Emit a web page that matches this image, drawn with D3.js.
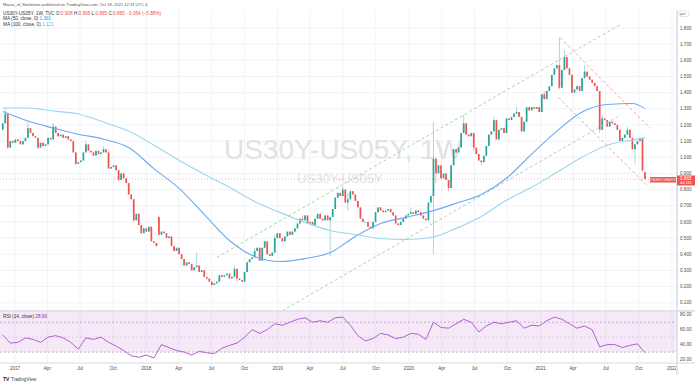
<!DOCTYPE html>
<html><head><meta charset="utf-8">
<script src="https://cdn.jsdelivr.net/npm/d3@7"></script>
<style>
body{margin:0;background:#fff}
svg{display:block;font-family:"Liberation Sans",Arial,sans-serif}
</style>
</head><body>
<script>
// weekly US30Y-US05Y spread, first bar = week of 2016-11-28
var startWeek = new Date(2016, 10, 28);
var firstOpen = 1.17;

var closes = [
  1.21,1.27,1.06,1.10,1.09,1.11,1.10,1.08,1.10,1.12,
  1.18,1.15,1.13,1.12,1.06,1.09,1.07,1.08,1.12,1.11,
  1.19,1.15,1.13,1.14,1.12,1.13,1.11,1.10,1.03,0.96,
  0.97,0.98,1.03,1.08,1.04,1.03,1.01,1.04,1.02,1.03,
  1.05,1.03,0.93,0.94,0.95,0.92,0.86,0.90,0.87,0.84,
  0.77,0.74,0.61,0.65,0.58,0.53,0.56,0.54,0.57,0.48,
  0.47,0.45,0.52,0.54,0.53,0.50,0.51,0.45,0.42,0.44,
  0.40,0.37,0.33,0.35,0.34,0.30,0.32,0.33,0.29,0.30,
  0.26,0.25,0.23,0.21,0.22,0.23,0.27,0.26,0.27,0.28,
  0.25,0.26,0.31,0.25,0.24,0.23,0.29,0.35,0.37,0.38,
  0.42,0.44,0.36,0.44,0.48,0.40,0.39,0.41,0.50,0.53,
  0.50,0.48,0.51,0.54,0.52,0.54,0.56,0.59,0.62,0.61,
  0.64,0.59,0.60,0.58,0.62,0.65,0.62,0.61,0.64,0.61,
  0.63,0.68,0.75,0.78,0.76,0.80,0.72,0.74,0.79,0.77,
  0.73,0.69,0.62,0.60,0.60,0.57,0.56,0.60,0.66,0.69,
  0.67,0.66,0.67,0.68,0.66,0.64,0.59,0.58,0.60,0.62,
  0.64,0.65,0.66,0.65,0.67,0.66,0.64,0.62,0.61,0.72,
  0.76,0.99,0.90,0.95,0.87,0.90,0.86,0.81,0.95,1.05,
  1.03,1.06,1.15,1.21,1.14,1.13,1.15,1.06,1.02,0.98,
  0.97,1.01,1.07,1.14,1.16,1.23,1.11,1.17,1.18,1.15,
  1.24,1.23,1.25,1.27,1.28,1.25,1.16,1.22,1.31,1.29,
  1.31,1.30,1.31,1.28,1.39,1.36,1.41,1.44,1.51,1.55,
  1.57,1.43,1.54,1.62,1.55,1.51,1.40,1.42,1.44,1.41,
  1.49,1.53,1.50,1.48,1.46,1.44,1.41,1.17,1.24,1.23,
  1.19,1.22,1.21,1.20,1.17,1.10,1.12,1.14,1.17,1.12,
  1.05,1.08,1.10,1.12,0.919,0.865
];

// bars that opened away from the previous close  [week, open]
var openGaps = [[62, 0.63], [255, 0.908]];

// visible wicks  [week, value]
var wickHighs = [[1,1.30],[10,1.22],[20,1.21],[33,1.10],[40,1.07],[42,1.04],[52,0.74],[62,0.64],
  [77,0.41],[92,0.33],[100,0.44],[108,0.52],[119,0.64],[135,0.82],[137,0.78],[162,0.69],
  [171,1.22],[172,1.00],[183,1.26],[195,1.25],[204,1.31],[215,1.41],[221,1.74],[223,1.66],
  [231,1.57],[238,1.26],[248,1.19]];
var wickLows = [[2,1.05],[14,1.05],[29,0.95],[46,0.85],[52,0.60],[83,0.20],[93,0.23],[130,0.39],
  [137,0.67],[171,0.40],[172,0.84],[177,0.79],[187,1.04],[190,0.95],[221,1.42],[237,1.15],
  [251,0.96],[254,0.91]];

// moving averages
var maWeeks = [0,10,20,30,40,50,60,70,80,90,100,110,120,130,140,150,160,170,180,190,200,210,220,230,240,250,255];
var ma50  = [1.283,1.224,1.181,1.143,1.112,1.06,0.93,0.808,0.647,0.485,0.386,0.355,0.373,0.41,0.51,0.59,0.628,0.665,0.715,0.77,0.87,1.02,1.162,1.28,1.327,1.333,1.301];
var ma100 = [1.305,1.305,1.286,1.268,1.218,1.162,1.075,0.982,0.895,0.814,0.727,0.659,0.597,0.547,0.522,0.497,0.491,0.504,0.56,0.634,0.734,0.814,0.907,1.0,1.075,1.106,1.121];

// RSI(14), every third week
var rsiStep = 3;
var rsi = [53,42,43,49,47,43,50,52,49,43,
  34,49,47,50,43,38,32,25,23,26,
  22,40,36,32,30,26,31,29,28,35,
  39,42,50,60,55,60,68,66,70,74,
  76,70,72,70,76,77,66,52,45,48,
  55,53,48,50,55,54,47,70,63,62,
  68,74,70,57,65,70,68,70,72,62,
  66,65,72,77,74,68,62,65,60,37,
  40,40,36,39,41,29];

// trend channels drawn on the chart  [week, value]
var greenChannel = [[[85,0.38],[245,1.82]], [[111,0.05],[244,1.25]]];
var redChannel = [[[221.3,1.74],[257,1.18]], [[220.5,1.37],[256.2,0.82]]];

var priceTicks = [0.1,0.2,0.3,0.4,0.5,0.6,0.7,0.8,0.9,1.0,1.1,1.2,1.3,1.4,1.5,1.6,1.7,1.8];
var rsiTicks = [80,60,40,20];
var timeTicks = ["2017-01-01","2017-04-01","2017-07-01","2017-10-01","2018-01-01","2018-04-01","2018-07-01","2018-10-01",
  "2019-01-01","2019-04-01","2019-07-01","2019-10-01","2020-01-01","2020-04-01","2020-07-01","2020-10-01",
  "2021-01-01","2021-04-01","2021-07-01","2021-10-01","2022-01-01"];
var timeLabels = ["2017","Apr","Jul","Oct","2018","Apr","Jul","Oct","2019","Apr","Jul","Oct",
  "2020","Apr","Jul","Oct","2021","Apr","Jul","Oct","2022"];

var W = 695, H = 384;
var paneRight = 676, paneTop = 10, paneBottom = 310;
var rsiTop = 312, rsiBottom = 362;
var up = "#26a69a", down = "#ef5350";

function weekDate(i) { return d3.timeDay.offset(startWeek, Math.round(i * 7)); }

var x = d3.scaleTime().domain([new Date(2017,0,1), new Date(2022,0,1)]).range([15, 672]);
var y = d3.scaleLinear().domain([0.1, 1.8]).range([302.7, 28]);
var ry = d3.scaleLinear().domain([20, 80]).range([359.5, 314.8]);

var svg = d3.select("body").append("svg").attr("width", W).attr("height", H);

svg.append("defs").append("clipPath").attr("id", "main")
  .append("rect").attr("x", 0).attr("y", paneTop).attr("width", paneRight).attr("height", paneBottom - paneTop);
d3.select("defs").append("clipPath").attr("id", "rsiclip")
  .append("rect").attr("x", 0).attr("y", rsiTop).attr("width", paneRight).attr("height", rsiBottom - rsiTop);
d3.select("defs").append("clipPath").attr("id", "timeclip")
  .append("rect").attr("x", 0).attr("y", 362).attr("width", paneRight).attr("height", 14);

// grid
var grid = svg.append("g");
grid.selectAll(".hg").data(priceTicks).enter().append("line")
  .attr("x1", 0).attr("x2", paneRight).attr("y1", d => y(d)).attr("y2", d => y(d))
  .attr("stroke", "#f0f3fa").attr("stroke-width", 1);
grid.selectAll(".vg").data(timeTicks).enter().append("line")
  .attr("x1", d => x(new Date(d))).attr("x2", d => x(new Date(d)))
  .attr("y1", paneTop).attr("y2", rsiBottom)
  .attr("stroke", "#f0f3fa").attr("stroke-width", 1);

// watermark
svg.append("text").attr("x", 343).attr("y", 159).attr("text-anchor", "middle")
  .attr("font-size", 28).attr("fill", "#e2e2e2").text("US30Y-US05Y, 1W");
svg.append("text").attr("x", 340).attr("y", 183).attr("text-anchor", "middle")
  .attr("font-size", 13).attr("fill", "#e2e2e2").text("US30Y-US05Y");

var main = svg.append("g").attr("clip-path", "url(#main)");

// last price line
var last = closes[closes.length - 1];
main.append("line").attr("x1", 0).attr("x2", paneRight).attr("y1", y(last)).attr("y2", y(last))
  .attr("stroke", "#ef5350").attr("stroke-opacity", 0.45).attr("stroke-dasharray", "1,2");

// candles
var bars = closes.map(function(c, i) {
  var o = i === 0 ? firstOpen : closes[i - 1];
  openGaps.forEach(function(g) { if (g[0] === i) o = g[1]; });
  var h = Math.max(o, c), l = Math.min(o, c);
  wickHighs.forEach(function(w) { if (w[0] === i) h = Math.max(h, w[1]); });
  wickLows.forEach(function(w) { if (w[0] === i) l = Math.min(l, w[1]); });
  return {date: weekDate(i), o: o, h: h, l: l, c: c};
});

var cg = main.append("g");
cg.selectAll(".wick").data(bars).enter().append("line")
  .attr("x1", d => x(d.date)).attr("x2", d => x(d.date))
  .attr("y1", d => y(d.h)).attr("y2", d => y(d.l))
  .attr("stroke", d => d.c >= d.o ? up : down).attr("stroke-width", 0.7).attr("stroke-opacity", 0.6);
cg.selectAll(".body").data(bars).enter().append("rect")
  .attr("x", d => x(d.date) - 0.85).attr("width", 1.7)
  .attr("y", d => y(Math.max(d.o, d.c)))
  .attr("height", d => Math.max(0.8, Math.abs(y(d.o) - y(d.c))))
  .attr("fill", d => d.c >= d.o ? up : down);

// moving averages
var maLine = d3.line().curve(d3.curveMonotoneX)
  .x(d => x(weekDate(d[0]))).y(d => y(d[1]));
main.append("path").datum(maWeeks.map((w, i) => [w, ma50[i]]))
  .attr("d", maLine).attr("fill", "none").attr("stroke", "#6aa9f4").attr("stroke-width", 1.1);
main.append("path").datum(maWeeks.map((w, i) => [w, ma100[i]]))
  .attr("d", maLine).attr("fill", "none").attr("stroke", "#9ad7ee").attr("stroke-width", 1.1);

// channels
var segLine = d3.line().x(d => x(weekDate(d[0]))).y(d => y(d[1]));
main.selectAll(".gch").data(greenChannel).enter().append("path")
  .attr("d", segLine).attr("stroke", "#a5d6a7").attr("stroke-width", 1)
  .attr("stroke-dasharray", "3,2.5").attr("fill", "none");
main.selectAll(".rch").data(redChannel).enter().append("path")
  .attr("d", segLine).attr("stroke", "#f5a3a3").attr("stroke-width", 1)
  .attr("stroke-dasharray", "3,2.5").attr("fill", "none");

// RSI pane
var rp = svg.append("g").attr("clip-path", "url(#rsiclip)");
rp.append("rect").attr("x", 0).attr("width", paneRight)
  .attr("y", rsiTop).attr("height", ry(30) - rsiTop)
  .attr("fill", "#9c27b0").attr("fill-opacity", 0.1);
rp.selectAll(".band").data([70, 50, 30]).enter().append("line")
  .attr("x1", 0).attr("x2", paneRight).attr("y1", d => ry(d)).attr("y2", d => ry(d))
  .attr("stroke", "#b7a0c8").attr("stroke-dasharray", "2,2").attr("stroke-width", 0.8)
  .attr("stroke-opacity", d => d === 50 ? 0.5 : 1);
rp.append("path").datum(rsi)
  .attr("d", d3.line().x((d, i) => x(weekDate(i * rsiStep))).y(d => ry(d)))
  .attr("fill", "none").attr("stroke", "#b35fd0").attr("stroke-width", 1);

// pane separators and axis border
svg.append("line").attr("x1", 0).attr("x2", W).attr("y1", 311).attr("y2", 311)
  .attr("stroke", "#d7dae2").attr("stroke-width", 1.5);
svg.append("line").attr("x1", 0).attr("x2", W).attr("y1", 363).attr("y2", 363)
  .attr("stroke", "#d7dae2").attr("stroke-width", 1.2);
svg.append("line").attr("x1", 677).attr("x2", 677).attr("y1", paneTop).attr("y2", 375)
  .attr("stroke", "#d7dae2").attr("stroke-width", 1.5);

// price axis
var pa = svg.append("g").attr("font-size", 4.6).attr("fill", "#4a4a4a");
pa.selectAll("text").data(priceTicks).enter().append("text")
  .attr("x", 680).attr("y", d => y(d) + 1.6).text(d => d3.format(".3f")(d));
svg.append("rect").attr("x", 679).attr("y", 11).attr("width", 10).attr("height", 5.5)
  .attr("rx", 1.5).attr("fill", "#fff").attr("stroke", "#c9ccd4").attr("stroke-width", 0.5);
svg.append("text").attr("x", 680.3).attr("y", 15.2).attr("font-size", 3.8).attr("fill", "#555").text("pct");

// rsi axis
svg.append("g").attr("font-size", 4.6).attr("fill", "#4a4a4a")
  .selectAll("text").data(rsiTicks).enter().append("text")
  .attr("x", 680).attr("y", d => ry(d) + 1.6).text(d => d3.format(".2f")(d));

// last price labels
svg.append("rect").attr("x", 677).attr("y", 175.5).attr("width", 18).attr("height", 10).attr("fill", down);
svg.append("text").attr("x", 680).attr("y", 180).attr("font-size", 4.6).attr("fill", "#fff").text("0.865");
svg.append("text").attr("x", 680).attr("y", 184.4).attr("font-size", 3.9).attr("fill", "#fff").text("4d 11h");
svg.append("rect").attr("x", 650).attr("y", 177).attr("width", 26).attr("height", 5.5).attr("fill", down);
svg.append("text").attr("x", 663).attr("y", 181.2).attr("font-size", 4).attr("fill", "#fff")
  .attr("text-anchor", "middle").text("US30Y-US05Y");

// time axis
svg.append("g").attr("clip-path", "url(#timeclip)").attr("font-size", 4.6).attr("fill", "#4a4a4a")
  .selectAll("text").data(timeTicks).enter().append("text")
  .attr("x", d => x(new Date(d))).attr("y", 370).attr("text-anchor", "middle")
  .text((d, i) => timeLabels[i]);

// header / legends
var hd = svg.append("g").attr("font-size", 4.7);
hd.append("text").attr("x", 3).attr("y", 6).attr("fill", "#555").attr("font-size", 4.1)
  .text("Macro_of_Smiletrom published on TradingView.com, Oct 18, 2021 12:31 UTC-4");
var l2 = hd.append("text").attr("x", 3).attr("y", 14.8).attr("fill", "#333");
l2.append("tspan").text("US30Y-US05Y, 1W, TVC  ");
[["O:", "0.908"], ["H:", "0.908"], ["L:", "0.865"], ["C:", "0.865"]].forEach(function(p) {
  l2.append("tspan").text(p[0]);
  l2.append("tspan").attr("fill", down).text(p[1] + " ");
});
l2.append("tspan").attr("fill", down).text("\u22120.054 (\u22125.88%)");
var l3 = hd.append("text").attr("x", 3).attr("y", 20.2).attr("fill", "#333");
l3.append("tspan").text("MA (50, close, 0)  ");
l3.append("tspan").attr("fill", "#3d8ef0").text(d3.format(".3f")(ma50[ma50.length - 1]));
var l4 = hd.append("text").attr("x", 3).attr("y", 25.6).attr("fill", "#333");
l4.append("tspan").text("MA (100, close, 0)  ");
l4.append("tspan").attr("fill", "#4cc3e0").text(d3.format(".3f")(ma100[ma100.length - 1]));
var l5 = hd.append("text").attr("x", 3).attr("y", 317.5).attr("fill", "#333");
l5.append("tspan").text("RSI (14, close)  ");
l5.append("tspan").attr("fill", "#9c27b0").text("28.96");

// footer logo
svg.append("text").attr("x", 3).attr("y", 380.5).attr("font-size", 5).attr("font-weight", "bold")
  .attr("fill", "#222").text("TV");
svg.append("text").attr("x", 11).attr("y", 380.5).attr("font-size", 4.6).attr("fill", "#444").text("TradingView");
</script>
</body></html>
